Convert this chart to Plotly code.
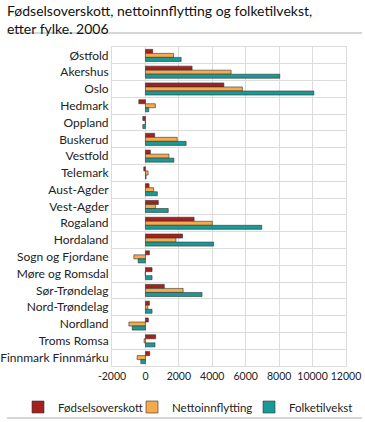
import plotly.graph_objects as go

categories = ["Østfold", "Akershus", "Oslo", "Hedmark", "Oppland", "Buskerud", "Vestfold",
              "Telemark", "Aust-Agder", "Vest-Agder", "Rogaland", "Hordaland",
              "Sogn og Fjordane", "Møre og Romsdal", "Sør-Trøndelag", "Nord-Trøndelag",
              "Nordland", "Troms Romsa", "Finnmark Finnmárku"]
fodselsoverskott = [436, 2792, 4693, -396, -158, 554, 297, -99, 218, 772, 2911, 2218,
                    238, 396, 1129, 238, 178, 614, 257]
nettoinnflytting = [1683, 5126, 5800, 594, -10, 1900, 1406, 158, 495, 594, 4000, 1822,
                    -693, -10, 2257, 139, -990, -79, -495]
folketilvekst = [2138, 8040, 10075, 198, -158, 2435, 1703, 40, 713, 1366, 6960, 4079,
                 -436, 396, 3386, 396, -792, 574, -277]
x_ticks = [-2000, 0, 2000, 4000, 6000, 8000, 10000, 12000]

series = [
    ("Fødselsoverskott", fodselsoverskott, "#a3221f", "legend", 34),
    ("Nettoinnflytting", nettoinnflytting, "#f5aa4b", "legend2", 148),
    ("Folketilvekst", folketilvekst, "#1a9a97", "legend3", 265),
]

FONT = "Lato"
W, H = 365, 422
PL, PR, PT, PB = 112, 346, 47, 366  # plot area in page pixels
L, T, R, B = PL, PT, W - PR, H - PB
pw, ph = W - L - R, H - T - B


def px_x(x):
    return (x - L) / pw


def px_y(y):
    return (H - B - y) / ph


fig = go.Figure()
legends = {}
for name, vals, col, lg, box_x in series:
    fig.add_trace(go.Bar(
        y=categories, x=vals, name=name, orientation="h", legend=lg,
        marker=dict(color=col, line=dict(color="rgba(50,50,50,0.75)", width=0.8)),
    ))
    legends[lg] = dict(orientation="h", xref="container", x=(box_x - 16) / W,
                       xanchor="left", yref="container", y=(H - 407) / H,
                       yanchor="middle", bgcolor="rgba(0,0,0,0)",
                       font=dict(family=FONT, size=11.5, color="#222"), itemwidth=30)

fig.update_layout(
    width=W, height=H,
    barmode="group", bargap=0.28, bargroupgap=0,
    plot_bgcolor="white", paper_bgcolor="white",
    font=dict(family=FONT, size=12, color="#222"),
    margin=dict(l=L, r=R, t=T, b=B, autoexpand=False),
    showlegend=True,
    annotations=[
        dict(text="Fødselsoverskott, nettoinnflytting og folketilvekst,<br>etter fylke. 2006",
             xref="paper", yref="paper", x=px_x(5), y=px_y(0), xanchor="left",
             yanchor="top", align="left", showarrow=False,
             font=dict(family=FONT, size=14, color="#111")),
    ],
    shapes=[
        dict(type="line", xref="paper", yref="paper", x0=px_x(7), x1=px_x(362),
             y0=px_y(33), y1=px_y(33), line=dict(color="#c8c8c8", width=1.5)),
        dict(type="line", xref="paper", yref="paper", x0=px_x(7), x1=px_x(362),
             y0=px_y(418), y1=px_y(418), line=dict(color="#c8c8c8", width=1.5)),
    ],
    **legends,
)
fig.update_xaxes(range=[-2000, 12000], tickvals=x_ticks, ticktext=[str(v) for v in x_ticks],
                 tickangle=0, automargin=False,
                 showgrid=True, gridcolor="#dcdcdc", gridwidth=1, zeroline=False,
                 showline=True, linecolor="#dcdcdc", mirror=True, ticks="",
                 tickfont=dict(size=10.5, color="#222"))
fig.update_yaxes(autorange="reversed", tickson="boundaries", showgrid=True, automargin=False,
                 gridcolor="#dcdcdc", gridwidth=1, showline=True, linecolor="#dcdcdc",
                 mirror=True, ticks="", ticklen=0, tickfont=dict(size=12, color="#222"))

fig.write_html("out.html", config={"displayModeBar": False},
               post_script="document.body.style.margin='0px';")
